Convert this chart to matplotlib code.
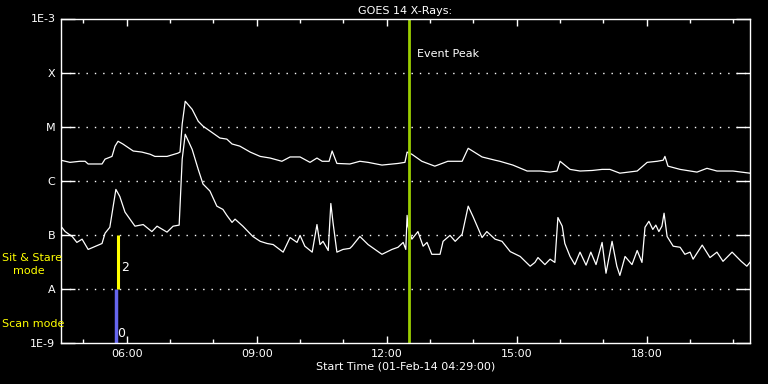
import numpy as np
import matplotlib
matplotlib.use("Agg")
import matplotlib.pyplot as plt
from matplotlib.ticker import FixedLocator, NullLocator, FuncFormatter

# time axis in hours of 01-Feb-14, flux as log10(W/m^2)
t_start = 4.4833
t_end = 20.383
event_peak = 12.51

long_t = [4.48, 4.69, 4.92, 5.04, 5.11, 5.43, 5.50, 5.66, 5.73, 5.80,
          5.91, 6.15, 6.35, 6.54, 6.65, 6.93, 7.18, 7.23, 7.28, 7.35,
          7.51, 7.65, 7.76, 7.92, 8.15, 8.31, 8.43, 8.61, 8.85, 9.08,
          9.31, 9.58, 9.77, 10.00, 10.23, 10.39, 10.51, 10.67, 10.74, 10.85,
          11.15, 11.38, 11.57, 11.89, 12.26, 12.42, 12.47, 12.58, 12.81, 13.11,
          13.41, 13.74, 13.88, 14.20, 14.50, 14.61, 14.91, 15.24, 15.54, 15.77,
          15.93, 16.00, 16.23, 16.46, 16.74, 16.97, 17.15, 17.38, 17.78, 18.01,
          18.24, 18.38, 18.42, 18.49, 18.77, 19.16, 19.39, 19.62, 19.99, 20.38]
long_log = [-5.62, -5.66, -5.64, -5.64, -5.69, -5.69, -5.60, -5.55, -5.36, -5.27,
            -5.32, -5.45, -5.47, -5.51, -5.55, -5.55, -5.49, -5.47, -4.95, -4.53,
            -4.68, -4.90, -4.99, -5.08, -5.21, -5.23, -5.32, -5.36, -5.47, -5.55,
            -5.58, -5.64, -5.56, -5.56, -5.66, -5.58, -5.64, -5.64, -5.45, -5.68,
            -5.69, -5.64, -5.66, -5.71, -5.68, -5.66, -5.47, -5.51, -5.64, -5.73,
            -5.64, -5.64, -5.40, -5.56, -5.62, -5.64, -5.71, -5.82, -5.82, -5.84,
            -5.82, -5.64, -5.79, -5.82, -5.81, -5.79, -5.79, -5.86, -5.82, -5.66,
            -5.64, -5.62, -5.55, -5.73, -5.79, -5.84, -5.77, -5.82, -5.82, -5.86]

short_t = [4.48, 4.58, 4.74, 4.85, 4.97, 5.11, 5.43, 5.50, 5.61, 5.75,
           5.84, 5.96, 6.19, 6.38, 6.58, 6.70, 6.93, 7.07, 7.21, 7.28,
           7.35, 7.51, 7.65, 7.76, 7.92, 8.08, 8.22, 8.31, 8.43, 8.50,
           8.68, 8.91, 9.08, 9.24, 9.38, 9.61, 9.77, 9.93, 10.00, 10.11,
           10.28, 10.39, 10.46, 10.53, 10.65, 10.71, 10.76, 10.85, 10.99, 11.15,
           11.20, 11.38, 11.57, 11.80, 11.89, 12.12, 12.26, 12.38, 12.44, 12.47,
           12.49, 12.58, 12.72, 12.84, 12.93, 13.04, 13.23, 13.30, 13.46, 13.58,
           13.74, 13.88, 13.99, 14.20, 14.31, 14.50, 14.66, 14.85, 15.08, 15.31,
           15.42, 15.49, 15.65, 15.77, 15.88, 15.95, 16.05, 16.11, 16.23, 16.34,
           16.46, 16.60, 16.71, 16.83, 16.97, 17.06, 17.20, 17.31, 17.38, 17.50,
           17.66, 17.78, 17.89, 17.96, 18.05, 18.14, 18.21, 18.28, 18.35, 18.40,
           18.47, 18.61, 18.77, 18.88, 19.00, 19.07, 19.28, 19.46, 19.62, 19.76,
           19.97, 20.18, 20.31, 20.38]
short_log = [-6.84, -6.94, -7.03, -7.14, -7.08, -7.27, -7.16, -6.97, -6.86, -6.16,
             -6.29, -6.58, -6.84, -6.81, -6.94, -6.84, -6.95, -6.84, -6.82, -5.60,
             -5.14, -5.42, -5.79, -6.06, -6.19, -6.47, -6.53, -6.64, -6.77, -6.71,
             -6.84, -7.03, -7.12, -7.16, -7.18, -7.32, -7.05, -7.14, -7.01, -7.21,
             -7.32, -6.81, -7.18, -7.12, -7.29, -6.42, -6.77, -7.32, -7.27, -7.25,
             -7.21, -7.03, -7.18, -7.31, -7.36, -7.27, -7.23, -7.14, -7.27, -6.64,
             -6.84, -7.08, -6.94, -7.21, -7.14, -7.36, -7.36, -7.12, -7.01, -7.12,
             -6.99, -6.47, -6.66, -7.05, -6.94, -7.08, -7.12, -7.31, -7.40, -7.58,
             -7.51, -7.42, -7.55, -7.45, -7.51, -6.68, -6.84, -7.16, -7.40, -7.55,
             -7.32, -7.56, -7.32, -7.55, -7.14, -7.71, -7.12, -7.58, -7.75, -7.40,
             -7.55, -7.29, -7.51, -6.86, -6.75, -6.90, -6.82, -6.94, -6.84, -6.60,
             -7.03, -7.21, -7.23, -7.36, -7.32, -7.45, -7.19, -7.42, -7.32, -7.49,
             -7.32, -7.49, -7.58, -7.51]

# instrument mode markers: (time, lower flux, upper flux)
scan_mode = (5.75, 1e-9, 1e-8)
sitstare_mode = (5.80, 1e-8, 1e-7)

class_levels = [1e-9, 1e-8, 1e-7, 1e-6, 1e-5, 1e-4, 1e-3]
class_labels = ["1E-9", "A", "B", "C", "M", "X", "1E-3"]

fig = plt.figure(figsize=(7.68, 3.84), dpi=100, facecolor="black")
ax = fig.add_axes([61/768, 41/384, 689/768, 324.5/384])
ax.set_facecolor("black")

ax.plot(long_t, 10**np.array(long_log), color="white", lw=0.9)
ax.plot(short_t, 10**np.array(short_log), color="white", lw=0.9)

# mode bars
ax.plot([scan_mode[0]]*2, scan_mode[1:], color="#6666ee", lw=2.5, solid_capstyle="butt")
ax.plot([sitstare_mode[0]]*2, sitstare_mode[1:], color="#ffff00", lw=2.2, solid_capstyle="butt")
ax.text(sitstare_mode[0] + 0.06, 2.5e-8, "2", color="white", fontsize=9, va="center")
ax.text(scan_mode[0] + 0.02, 1.5e-9, "0", color="white", fontsize=9, va="center")

# event peak
ax.axvline(event_peak, color="#9acd00", lw=2)
ax.text(event_peak + 0.2, 2.2e-4, "Event Peak", color="white", fontsize=8, va="center")

ax.set_yscale("log")
ax.set_ylim(1e-9, 1e-3)
ax.set_xlim(t_start, t_end)

ax.yaxis.set_major_locator(FixedLocator(class_levels))
ax.yaxis.set_minor_locator(NullLocator())
ax.set_yticklabels(class_labels)
ax.xaxis.set_major_locator(FixedLocator([6, 9, 12, 15, 18]))
ax.xaxis.set_minor_locator(FixedLocator(range(5, 21)))
ax.xaxis.set_major_formatter(FuncFormatter(lambda v, p: "%02d:00" % int(round(v))))

ax.tick_params(axis="y", which="major", direction="in", length=10, width=1,
               colors="white", labelsize=8, left=True, right=True, pad=4)
ax.tick_params(axis="x", which="major", direction="in", length=5, width=1,
               colors="white", labelsize=8, top=True, bottom=True, pad=4)
ax.tick_params(axis="x", which="minor", direction="in", length=3, width=1,
               colors="white", top=True, bottom=True)

for lev in class_levels[1:-1]:
    ax.axhline(lev, color="white", lw=1, ls=(0, (1, 5)), zorder=0)

for s in ax.spines.values():
    s.set_color("white")
    s.set_linewidth(1)

ax.set_title("GOES 14 X-Rays:", color="white", fontsize=8, pad=3)
ax.set_xlabel("Start Time (01-Feb-14 04:29:00)", color="white", fontsize=8, labelpad=2)

fig.text(2/768, 1 - 258/384, "Sit & Stare", color="#ffff00", fontsize=8, va="center")
fig.text(13/768, 1 - 271/384, "mode", color="#ffff00", fontsize=8, va="center")
fig.text(2/768, 1 - 324/384, "Scan mode", color="#ffff00", fontsize=8, va="center")

fig.savefig("out.png", dpi=100, facecolor="black")
